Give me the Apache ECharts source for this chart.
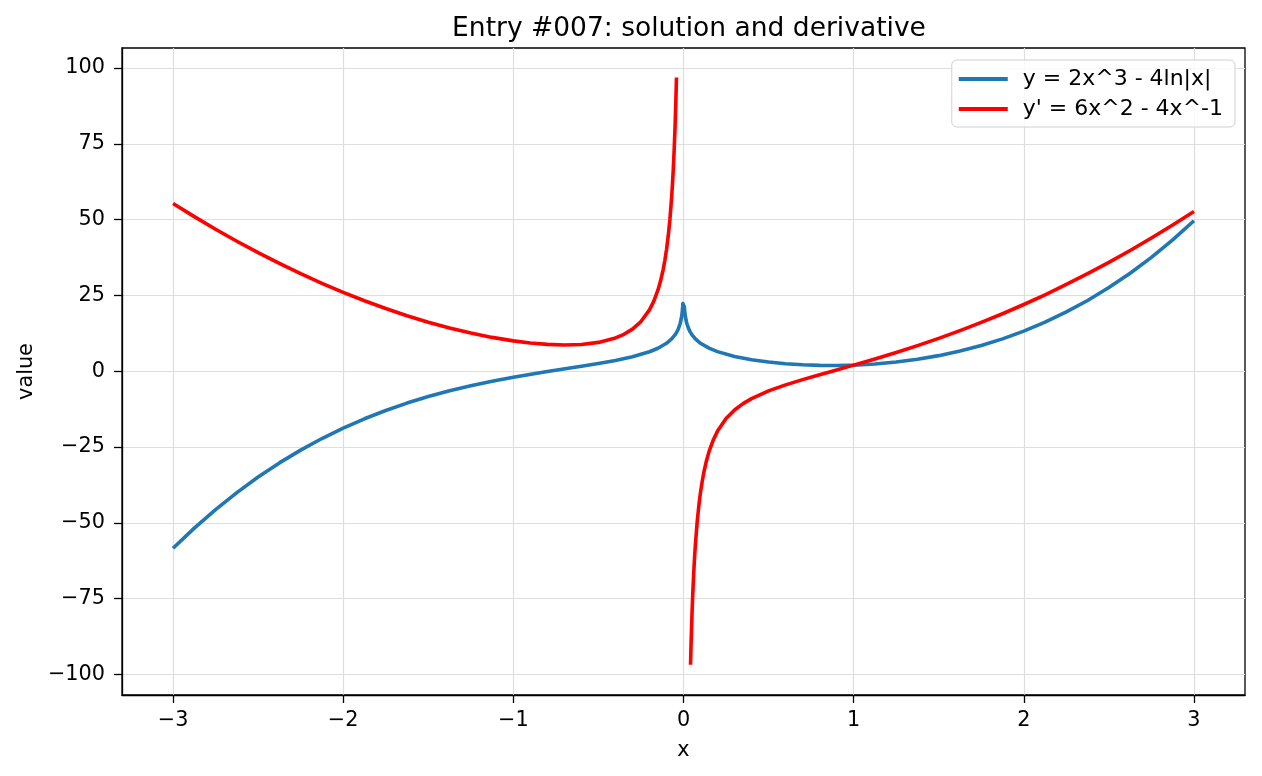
<!DOCTYPE html>
<html>
<head>
<meta charset="utf-8">
<script src="https://cdn.jsdelivr.net/npm/echarts@6/dist/echarts.min.js"></script>
<style>
html,body{margin:0;padding:0;background:#fff;}
#main{width:1262px;height:776px;}
</style>
</head>
<body>
<div id="main"></div>
<script>
// values
var xBlue = [-3,-2.875,-2.75,-2.625,-2.5,-2.375,-2.25,-2.125,-2,-1.875,-1.75,-1.625,-1.5,-1.375,-1.25,-1.125,-1,-0.8,-0.6,-0.5,-0.4,-0.3,-0.2,-0.15,-0.1,-0.07,-0.05,-0.04,-0.03,-0.02,-0.015,-0.01,-0.0075,-0.005,-0.00375,
	0.00375,0.005,0.0075,0.01,0.015,0.02,0.03,0.04,0.05,0.07,0.1,0.15,0.2,0.3,0.4,0.5,0.6,0.7,0.8,0.9,1,1.125,1.25,1.375,1.5,1.625,1.75,1.875,2,2.125,2.25,2.375,2.5,2.625,2.75,2.875,3];
var yBlue = [-58.39,-51.75,-45.64,-40.04,-34.92,-30.25,-26.03,-22.21,-18.77,-15.70,-12.96,-10.52,-8.37,-6.47,-4.80,-3.32,-2,-0.13,1.61,2.52,3.54,4.76,6.42,7.58,9.21,10.64,11.98,12.87,14.03,15.65,16.80,18.42,19.57,21.19,22.34,
	22.34,21.19,19.57,18.42,16.80,15.65,14.03,12.88,11.98,10.64,9.21,7.60,6.45,4.87,3.79,3.02,2.48,2.11,1.92,1.88,2,2.38,3.01,3.93,5.13,6.64,8.48,10.67,13.23,16.18,19.54,23.33,27.59,32.32,37.55,43.30,49.61];
var xRed = [-3,-2.875,-2.75,-2.625,-2.5,-2.375,-2.25,-2.125,-2,-1.875,-1.75,-1.625,-1.5,-1.375,-1.25,-1.125,-1,-0.9,-0.8,-0.7,-0.6,-0.5,-0.4,-0.35,-0.3,-0.25,-0.2,-0.175,-0.15,-0.135,-0.12,-0.11,-0.1,-0.09,-0.08,-0.07,-0.065,-0.06,-0.055,-0.05,-0.045,-0.0413,
	0,
	0.0413,0.045,0.05,0.055,0.06,0.065,0.07,0.08,0.09,0.1,0.11,0.12,0.135,0.15,0.175,0.2,0.25,0.3,0.35,0.4,0.5,0.6,0.7,0.8,0.9,1,1.125,1.25,1.375,1.5,1.625,1.75,1.875,2,2.125,2.25,2.375,2.5,2.625,2.75,2.875,3];
var yRed = [55.33,50.98,46.83,42.87,39.1,35.53,32.15,28.98,26,23.23,20.66,18.31,16.17,14.25,12.58,11.15,10,9.30,8.84,8.65,8.83,9.5,10.96,12.16,13.87,16.38,20.24,23.04,26.80,29.74,33.42,36.44,40.06,44.49,50.04,57.17,61.56,66.69,72.75,80.02,88.90,96.86,
	null,
	-96.84,-88.88,-79.99,-72.71,-66.65,-61.51,-57.11,-49.96,-44.40,-39.94,-36.29,-33.25,-29.52,-26.53,-22.67,-19.76,-15.63,-12.79,-10.69,-9.04,-6.5,-4.51,-2.77,-1.16,0.42,2,4.04,6.18,8.43,10.83,13.38,16.09,18.96,22,25.21,28.60,32.16,35.9,39.82,43.92,48.20,52.67];
var xTicks = [-3,-2,-1,0,1,2,3];
var yTicks = [-100,-75,-50,-25,0,25,50,75,100];

function pairs(xs, ys){
	var out = [];
	for (var i=0;i<xs.length;i++){
		out.push([xs[i], ys[i]===null ? '-' : ys[i]]);
	}
	return out;
}
function minus(v){
	return String(v).replace('-', '\u2212');
}

var font = 'DejaVu Sans';
var chart = echarts.init(document.getElementById('main'));
var option = {
	backgroundColor: '#fff',
	animation: false,
	title: {
		text: 'Entry #007: solution and derivative',
		left: 684, top: 11, textAlign: 'center',
		textStyle: {fontFamily: font, fontSize: 26.5, fontWeight: 'normal', color: '#000'}
	},
	legend: {
		right: 27, top: 60,
		orient: 'vertical',
		itemWidth: 49, itemHeight: 4, itemGap: 8,
		padding: [8, 12, 7, 7],
		borderColor: '#d0d0d0', borderWidth: 1, borderRadius: 5,
		backgroundColor: 'rgba(255,255,255,0.8)',
		textStyle: {fontFamily: font, fontSize: 22, color: '#000', padding: [0,0,0,10]},
		data: [
			{name: 'y = 2x^3 - 4ln|x|', icon: 'rect'},
			{name: "y' = 6x^2 - 4x^-1", icon: 'rect'}
		]
	},
	grid: {left: 122, right: 17, top: 48, bottom: 81, show: true, borderColor: '#000', borderWidth: 1.3, backgroundColor: 'transparent'},
	xAxis: {
		type: 'value', min: -3.3, max: 3.3,
		name: 'x', nameLocation: 'middle', nameGap: 45,
		nameTextStyle: {fontFamily: font, fontSize: 20.8, color: '#000'},
		axisLine: {onZero: false, lineStyle: {color: '#000', width: 1.3}},
		axisTick: {show: true, length: 8, customValues: xTicks, lineStyle: {color: '#000', width: 1.3}},
		axisLabel: {customValues: xTicks, fontFamily: font, fontSize: 20.8, color: '#000', margin: 15, formatter: minus},
		splitLine: {show: true, lineStyle: {color: '#dedede', width: 1.2}}
	},
	yAxis: {
		type: 'value', min: -106.8, max: 106.6,
		name: 'value', nameLocation: 'middle', nameGap: 85,
		nameTextStyle: {fontFamily: font, fontSize: 20.8, color: '#000'},
		axisLine: {show: true, onZero: false, lineStyle: {color: '#000', width: 1.3}},
		axisTick: {show: true, length: 8, customValues: yTicks, lineStyle: {color: '#000', width: 1.3}},
		axisLabel: {customValues: yTicks, fontFamily: font, fontSize: 20.8, color: '#000', margin: 17, formatter: minus},
		splitLine: {show: true, lineStyle: {color: '#dedede', width: 1.2}}
	},
	series: [
		{
			name: 'y = 2x^3 - 4ln|x|', type: 'line',
			data: pairs(xBlue, yBlue),
			showSymbol: false,
			itemStyle: {color: '#1f77b4'},
			lineStyle: {color: '#1f77b4', width: 3.6, join: 'round', cap: 'butt'}
		},
		{
			name: "y' = 6x^2 - 4x^-1", type: 'line',
			data: pairs(xRed, yRed),
			showSymbol: false, connectNulls: false,
			itemStyle: {color: '#ff0000'},
			lineStyle: {color: '#ff0000', width: 3.6, join: 'round', cap: 'butt'}
		}
	]
};
chart.setOption(option);
</script>
</body>
</html>
